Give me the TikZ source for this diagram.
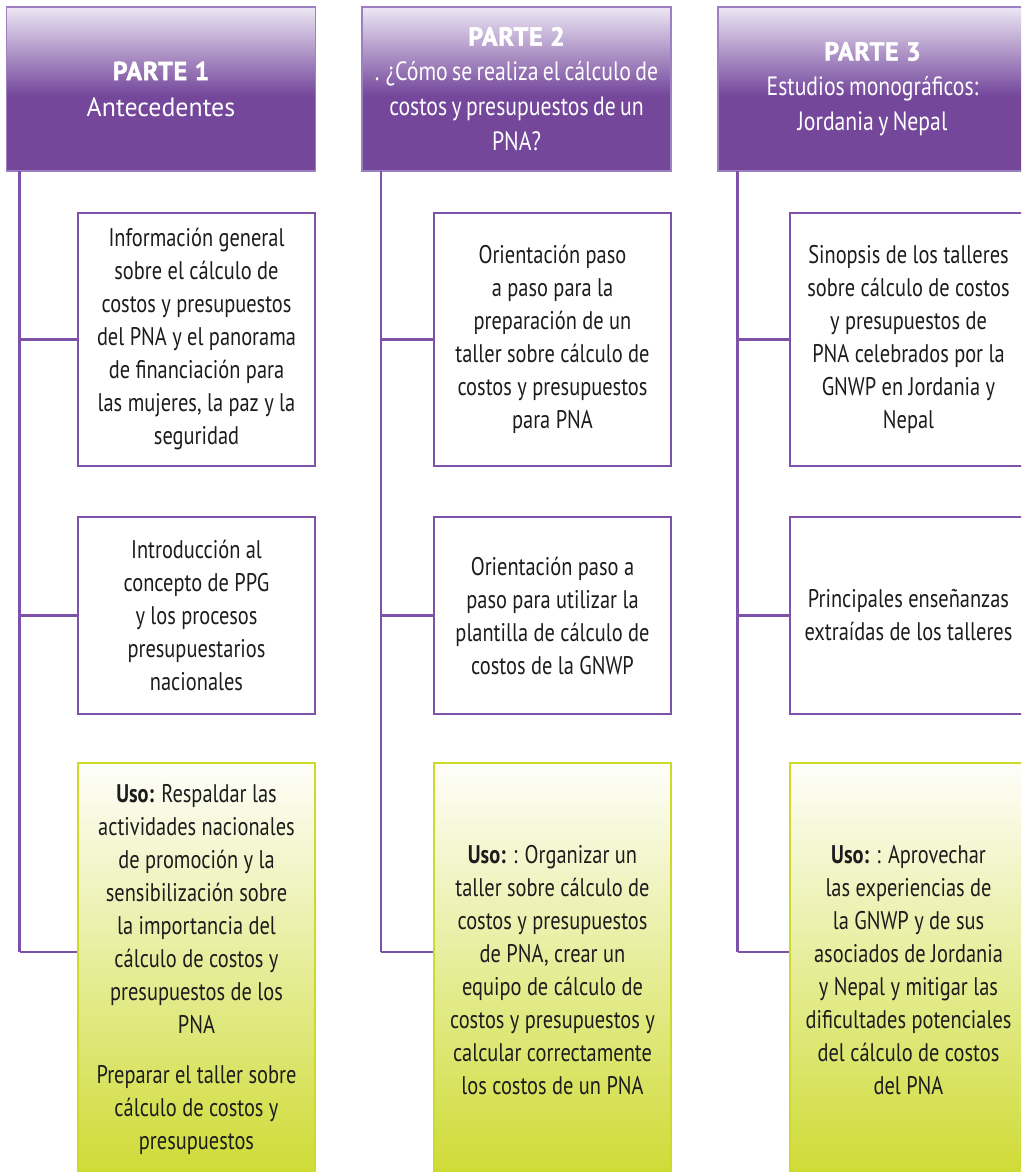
\documentclass[tikz,border=0pt]{standalone}
\usepackage{graphicx}
\usepackage{fontspec}
\setmainfont{PT Sans}[FakeStretch=0.8]
\newfontfamily\headfont{PT Sans}[FakeStretch=0.82, WordSpace=0.75]
\newfontfamily\partfont{PT Sans}[FakeBold=1.6, LetterSpace=3]
\definecolor{purp}{HTML}{74479B}
\definecolor{lineP}{HTML}{7D52A8}
\definecolor{lav}{HTML}{EDE7F4}
\definecolor{hbord}{HTML}{9C80C2}
\definecolor{gtop}{HTML}{FEFEFA}
\definecolor{gbot}{HTML}{CEDB34}
\definecolor{gbord}{HTML}{CCDB2A}
\definecolor{txt}{HTML}{1C1C1C}
\pgfdeclareverticalshading{hshade}{100bp}{color(0bp)=(purp); color(48bp)=(purp); color(75bp)=(lav); color(100bp)=(lav)}
\tikzset{
  headbox/.style={draw=hbord, line width=1.2pt, shade, shading=hshade, minimum width=309pt, minimum height=164pt,
    inner sep=0pt, align=center, text=white,
    font=\headfont\fontsize{26.5}{35}\selectfont},
  wbox/.style={draw=lineP, line width=1.6pt, fill=white, minimum width=237pt, inner sep=0pt,
    align=center, text=txt, font=\fontsize{25.5}{33}\selectfont},
  gbox/.style={draw=gbord, line width=1.6pt, top color=gtop, bottom color=gbot, minimum width=237pt,
    minimum height=414pt, inner sep=0pt, align=center, text=txt, font=\fontsize{25.5}{33}\selectfont},
  conn/.style={draw=lineP, line width=2.6pt}
}
\newcommand{\parttitle}[1]{{\partfont\bfseries\fontsize{26}{35}\selectfont #1}}
\begin{document}
\begin{tikzpicture}[x=1pt,y=-1pt]
\useasboundingbox (0,0) rectangle (1021,1172);
\clip (0,0) rectangle (1021,1172);
\fill[white] (0,0) rectangle (1021,1172);

% headers
\node[headbox] (h1) at (161,89) {\parttitle{PARTE 1}\\[1pt]\scalebox{1.19}[1]{Antecedentes}};
\node[headbox] (h2) at (516.5,89) {\parttitle{PARTE 2}\\. ¿Cómo se realiza el cálculo de\\costos y presupuestos de un\\PNA?};
\node[headbox] (h3) at (872.5,89) {\parttitle{PARTE 3}\\Estudios monográficos:\\Jordania y Nepal};

% column 1 boxes
\node[wbox, minimum height=253pt] (b11) at (196.5,339.5) {Información general\\sobre el cálculo de\\costos y presupuestos\\del PNA y el panorama\\de financiación para\\las mujeres, la paz y la\\seguridad};
\node[wbox, minimum height=197pt] (b12) at (196.5,615.5) {Introducción al\\concepto de PPG\\y los procesos\\presupuestarios\\nacionales};
\node[gbox] (b13) at (196.5,970) {\textbf{Uso:} Respaldar las\\actividades nacionales\\de promoción y la\\sensibilización sobre\\la importancia del\\cálculo de costos y\\presupuestos de los\\PNA\\[17pt]Preparar el taller sobre\\cálculo de costos y\\presupuestos};

% column 2 boxes
\node[wbox, minimum height=253pt] (b21) at (552.5,339.5) {Orientación paso\\a paso para la\\preparación de un\\taller sobre cálculo de\\costos y presupuestos\\para PNA};
\node[wbox, minimum height=197pt] (b22) at (552.5,615.5) {Orientación paso a\\paso para utilizar la\\plantilla de cálculo de\\costos de la GNWP};
\node[gbox] (b23) at (552.5,970) {\textbf{Uso:} : Organizar un\\taller sobre cálculo de\\costos y presupuestos\\de PNA, crear un\\equipo de cálculo de\\costos y presupuestos y\\calcular correctamente\\los costos de un PNA};

% column 3 boxes
\node[wbox, minimum height=253pt] (b31) at (908.5,339.5) {Sinopsis de los talleres\\sobre cálculo de costos\\y presupuestos de\\PNA celebrados por la\\GNWP en Jordania y\\Nepal};
\node[wbox, minimum height=197pt] (b32) at (908.5,615.5) {Principales enseñanzas\\extraídas de los talleres};
\node[gbox] (b33) at (908.5,970) {\textbf{Uso:} : Aprovechar\\las experiencias de\\la GNWP y de sus\\asociados de Jordania\\y Nepal y mitigar las\\dificultades potenciales\\del cálculo de costos\\del PNA};

% connectors
\coordinate (v1t) at (19.5,171); \coordinate (v1b) at (19.5,952);
\coordinate (v2t) at (381,171); \coordinate (v2b) at (381,952);
\coordinate (v3t) at (737.5,171); \coordinate (v3b) at (737.5,952);
\foreach \c in {1,2,3}{
  \draw[conn] (v\c t) -- (v\c b);
  \draw[conn] (v\c t |- b\c1.west) -- (b\c1.west);
  \draw[conn] (v\c t |- b\c2.west) -- (b\c2.west);
  \draw[conn] (v\c b) -- (v\c b -| b\c3.west);
}
\end{tikzpicture}
\end{document}
